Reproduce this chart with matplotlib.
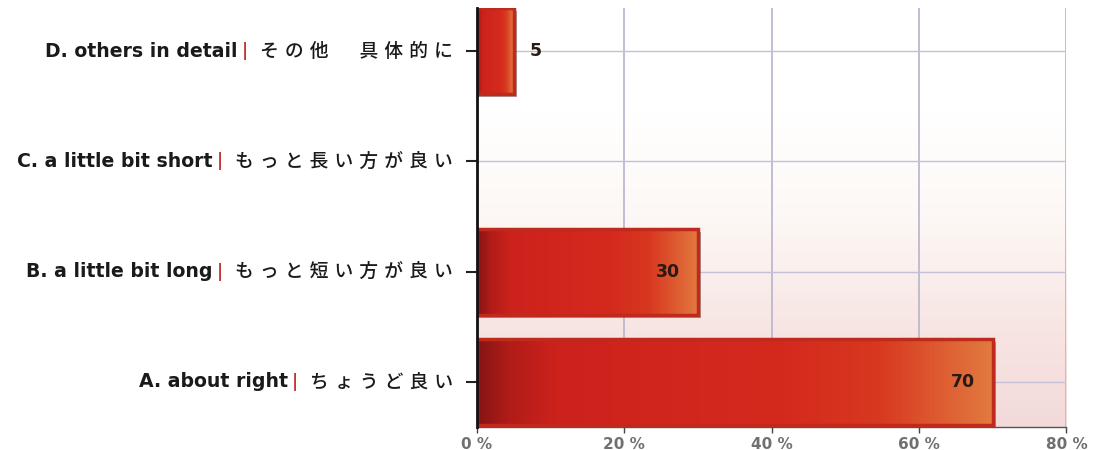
import numpy as np
import matplotlib.pyplot as plt
from matplotlib.colors import LinearSegmentedColormap

en_labels = ['A. about right', 'B. a little bit long',
             'C. a little bit short', 'D. others in detail']
jp_labels = ['ちょうど 良い', 'もっと短い方が良い', 'もっと長い方が良い', 'その他　具体的に']
values = [70, 30, 0, 5]
xticks = [0, 20, 40, 60, 80]
xticklabels = ['0 %', '20 %', '40 %', '60 %', '80 %']

fig = plt.figure(figsize=(10.96, 4.5), dpi=100)
ax = fig.add_axes([0.435, 0.051, 0.538, 0.931])

ylo, yhi = -0.41, 3.39
ax.set_xlim(0, 80)
ax.set_ylim(ylo, yhi)

# background: white at top fading to pale pink
bg = LinearSegmentedColormap.from_list('bg', ['#f3dada', '#f7e6e4', '#fdf8f5', '#ffffff', '#ffffff'])
grad = np.linspace(0, 1, 256).reshape(-1, 1)
ax.imshow(grad, cmap=bg, extent=(0, 80, ylo, yhi), origin='lower',
          aspect='auto', zorder=0)

for x in xticks[1:]:
    ax.axvline(x, color='#bdb8d0', lw=1.3, zorder=1)
for y in range(len(en_labels)):
    ax.axhline(y, color='#c4c0d6', lw=1.0, zorder=1)

barcm = LinearSegmentedColormap.from_list(
    'bar', [(0, '#861414'), (0.06, '#b01c18'), (0.15, '#cc221c'),
            (0.6, '#d42a1e'), (0.78, '#d8381f'), (1, '#e27a40')])
hgt = 0.78
hx = np.linspace(0, 1, 256).reshape(1, -1)
for i, v in enumerate(values):
    if v <= 0:
        continue
    # shadow
    ax.barh(i - 0.03, v + 0.4, height=hgt, color='#4a3030', alpha=0.45,
            zorder=2)
    ax.imshow(hx, cmap=barcm, extent=(0, v, i - hgt / 2, i + hgt / 2),
              aspect='auto', zorder=3)
    ax.barh(i, v, height=hgt, facecolor='none', edgecolor='#bf2a1c',
            lw=2.5, zorder=4)
    if v >= 20:
        ax.text(v - 2.4, i, str(v), ha='right', va='center', fontsize=12.5,
                fontweight='bold', color='#2a1a14', family='DejaVu Sans',
                zorder=5)
    else:
        ax.text(v + 2.2, i, str(v), ha='left', va='center', fontsize=12.5,
                fontweight='bold', color='#2a1a14', family='DejaVu Sans',
                zorder=5)

ax.set_xlim(0, 80)
ax.set_ylim(ylo, yhi)

# category labels: English part bold, red bar, Japanese part with wide spacing
ax.set_yticks(range(len(en_labels)))
ax.set_yticklabels([''] * len(en_labels))
ytr = ax.get_yaxis_transform()
sep = '\u2004'
for i, (en, jp) in enumerate(zip(en_labels, jp_labels)):
    if '　' in jp:
        a, b = jp.split('　')
        jp_spaced = sep.join(a) + sep + '\u3000' + sep + sep.join(b)
    elif ' ' in jp:
        a, b = jp.split(' ')
        jp_spaced = sep.join(a) + sep + sep.join(b)
    else:
        jp_spaced = sep.join(jp)
    t_jp = ax.annotate(jp_spaced, xy=(0, i), xycoords=ytr, xytext=(-24, 0),
                       textcoords='offset pixels', ha='right', va='center',
                       fontsize=13.5, fontweight='medium', color='#1a1a1a',
                       family=['DejaVu Sans', 'Noto Sans CJK JP'])
    t_bar = ax.annotate('|', xy=(0, 0.5), xycoords=t_jp, xytext=(-12, 0),
                        textcoords='offset pixels', ha='right', va='center',
                        fontsize=12, fontweight='bold', color='#c03a30',
                        family='DejaVu Sans')
    ax.annotate(en, xy=(0, 0.5), xycoords=t_bar, xytext=(-4, 0),
                textcoords='offset pixels', ha='right', va='center',
                fontsize=13.6, fontweight='bold', color='#1a1a1a',
                family='DejaVu Sans')

ax.set_xticks(xticks)
ax.set_xticklabels(xticklabels, fontsize=11, fontweight='bold',
                   color='#707070', family='DejaVu Sans')
ax.tick_params(axis='y', length=8, width=1.5, color='#222222', pad=4)
ax.tick_params(axis='x', length=4, width=1, color='#444444', pad=3)

for s in ['top', 'right']:
    ax.spines[s].set_visible(False)
ax.spines['left'].set_linewidth(2)
ax.spines['left'].set_color('#111111')
ax.spines['left'].set_zorder(6)
ax.spines['bottom'].set_linewidth(1)
ax.spines['bottom'].set_color('#555555')

fig.savefig('out.png', dpi=100)
